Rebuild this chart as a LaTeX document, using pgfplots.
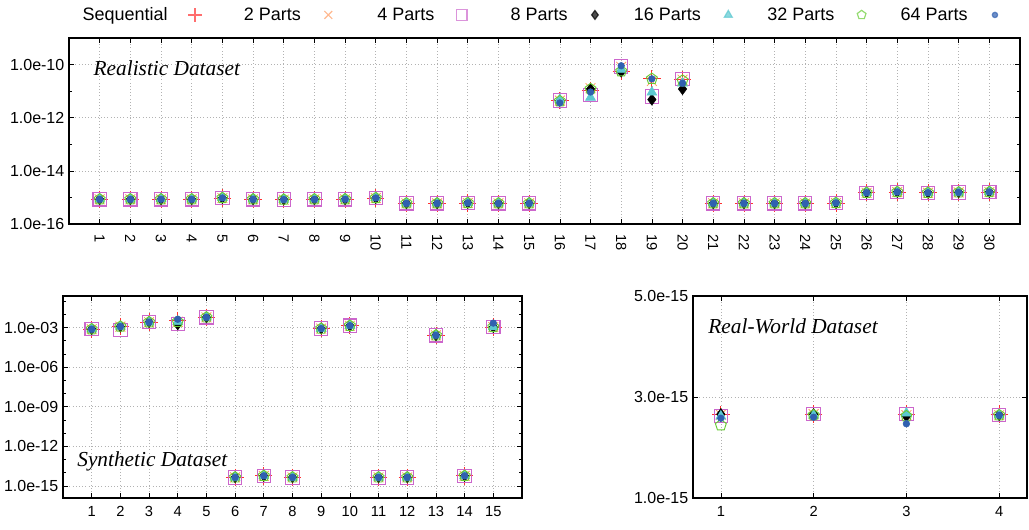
\documentclass[border=0pt]{standalone}
\usepackage{fontspec}
\setmainfont{Liberation Sans}
\newfontfamily\tnr{Liberation Serif}
\usepackage{pgfplots}
\usepackage{pgfplotstable}
\pgfplotsset{compat=1.18}
\usetikzlibrary{plotmarks}

\definecolor{cSeq}{HTML}{FF3030}
\definecolor{cTwo}{HTML}{FF9A60}
\definecolor{cFour}{HTML}{CC66CC}
\definecolor{cEight}{HTML}{000000}
\definecolor{cSixteen}{HTML}{5CC8D0}
\definecolor{cThirtytwo}{HTML}{66CC33}
\definecolor{cSixtyfour}{HTML}{3060B0}

\pgfplotstableread{
x s p2 p4 p8 p16 p32 p64
1 8.5e-16 8.5e-16 8.5e-16 8.5e-16 8.5e-16 8.5e-16 8.5e-16
2 8.5e-16 8.5e-16 8.5e-16 8.5e-16 8.5e-16 8.5e-16 8.5e-16
3 8.5e-16 8.5e-16 8.5e-16 8.5e-16 8.8e-16 8.5e-16 8.5e-16
4 8.5e-16 8.5e-16 8.5e-16 8.5e-16 8.5e-16 8.5e-16 8.5e-16
5 9.5e-16 9.5e-16 9.5e-16 9.5e-16 9.8e-16 9.5e-16 9.5e-16
6 8.5e-16 8.5e-16 8.5e-16 8.5e-16 8.5e-16 8.5e-16 8.5e-16
7 8.3e-16 8.3e-16 8.3e-16 8.3e-16 8.3e-16 8.3e-16 8.3e-16
8 8.5e-16 8.5e-16 8.5e-16 8.5e-16 8.5e-16 8.5e-16 8.5e-16
9 8.5e-16 8.5e-16 8.5e-16 8.5e-16 8.8e-16 8.5e-16 8.5e-16
10 9.5e-16 9.5e-16 9.5e-16 9.5e-16 9.8e-16 9.5e-16 9.5e-16
11 6.0e-16 6.0e-16 6.0e-16 6.0e-16 6.0e-16 6.0e-16 6.0e-16
12 6.0e-16 6.0e-16 6.0e-16 6.0e-16 6.0e-16 6.0e-16 6.0e-16
13 6.2e-16 6.2e-16 6.2e-16 6.2e-16 6.2e-16 6.2e-16 6.2e-16
14 6.0e-16 6.0e-16 6.0e-16 6.0e-16 6.0e-16 6.0e-16 6.0e-16
15 6.0e-16 6.0e-16 6.0e-16 6.0e-16 6.0e-16 6.0e-16 6.0e-16
16 4.4e-12 4.4e-12 4.4e-12 4.4e-12 4.8e-12 4.2e-12 3.6e-12
17 1.07e-11 1.3e-11 7.0e-12 1.2e-11 5.8e-12 1.2e-11 9.3e-12
18 5.5e-11 8.2e-11 8.5e-11 5.4e-11 6.5e-11 5.6e-11 9.0e-11
19 2.9e-11 2.4e-11 6.3e-12 4.8e-12 9.0e-12 2.9e-11 2.9e-11
20 2.7e-11 2.7e-11 2.8e-11 1.2e-11 2.0e-11 2.5e-11 2.0e-11
21 6.0e-16 6.0e-16 6.0e-16 6.0e-16 6.0e-16 6.0e-16 6.0e-16
22 6.0e-16 6.0e-16 6.0e-16 6.0e-16 6.0e-16 6.0e-16 6.0e-16
23 6.0e-16 6.0e-16 6.0e-16 6.0e-16 6.0e-16 6.0e-16 6.0e-16
24 6.0e-16 6.0e-16 6.0e-16 6.0e-16 6.0e-16 6.0e-16 6.0e-16
25 6.2e-16 6.2e-16 6.2e-16 6.2e-16 6.2e-16 6.2e-16 6.2e-16
26 1.5e-15 1.5e-15 1.5e-15 1.5e-15 1.5e-15 1.5e-15 1.5e-15
27 1.6e-15 1.6e-15 1.6e-15 1.6e-15 1.6e-15 1.6e-15 1.6e-15
28 1.5e-15 1.5e-15 1.5e-15 1.5e-15 1.5e-15 1.5e-15 1.5e-15
29 1.55e-15 1.55e-15 1.55e-15 1.55e-15 1.55e-15 1.55e-15 1.55e-15
30 1.6e-15 1.6e-15 1.6e-15 1.6e-15 1.6e-15 1.6e-15 1.6e-15
}\realistic

\pgfplotstableread{
x s p2 p4 p8 p16 p32 p64
1 7.6e-4 7.6e-4 7.6e-4 7.6e-4 7.6e-4 7.6e-4 7.6e-4
2 1.2e-3 1.2e-3 6.7e-4 1.2e-3 1.2e-3 1.2e-3 1.2e-3
3 2.6e-3 2.6e-3 2.6e-3 2.6e-3 2.6e-3 2.6e-3 2.6e-3
4 3.4e-3 2.8e-3 1.8e-3 1.8e-3 2.8e-3 2.8e-3 4.3e-3
5 6.0e-3 6.0e-3 6.0e-3 6.0e-3 6.0e-3 6.0e-3 6.0e-3
6 4.4e-15 4.4e-15 4.4e-15 4.4e-15 4.4e-15 4.4e-15 4.4e-15
7 5.7e-15 5.7e-15 5.7e-15 5.7e-15 5.7e-15 5.7e-15 5.7e-15
8 4.4e-15 4.4e-15 4.4e-15 4.4e-15 4.4e-15 4.4e-15 4.4e-15
9 8.4e-4 8.4e-4 8.4e-4 8.4e-4 8.4e-4 8.4e-4 8.4e-4
10 1.4e-3 1.4e-3 1.4e-3 1.4e-3 1.4e-3 1.4e-3 1.4e-3
11 4.4e-15 4.4e-15 4.4e-15 4.4e-15 4.4e-15 4.4e-15 4.4e-15
12 4.4e-15 4.4e-15 4.4e-15 4.4e-15 4.4e-15 4.4e-15 4.4e-15
13 2.6e-4 2.6e-4 2.6e-4 2.6e-4 2.6e-4 2.6e-4 2.6e-4
14 5.7e-15 5.7e-15 5.7e-15 5.7e-15 5.7e-15 5.7e-15 5.7e-15
15 1.1e-3 1.1e-3 1.1e-3 1.1e-3 1.1e-3 1.1e-3 2.2e-3
}\synthetic

\pgfplotstableread{
x s p2 p4 p8 p16 p32 p64
1 2.65e-15 2.65e-15 2.62e-15 2.66e-15 2.62e-15 2.44e-15 2.58e-15
2 2.66e-15 2.66e-15 2.66e-15 2.66e-15 2.64e-15 2.64e-15 2.60e-15
3 2.66e-15 2.64e-15 2.66e-15 2.62e-15 2.68e-15 2.62e-15 2.47e-15
4 2.66e-15 2.64e-15 2.64e-15 2.64e-15 2.64e-15 2.64e-15 2.64e-15
}\realworld

\pgfplotsset{
  every axis/.append style={
    scale only axis,
    yticklabel style={font=\fontsize{12}{14}\selectfont},
    xticklabel style={font=\fontsize{11}{13}\selectfont},
    tick align=inside,
    major tick length=4pt,
    minor tick length=2.5pt,
    grid=major,
    major grid style={gray!60, dotted, line width=0.5pt},
    axis line style={line width=0.8pt},
    every tick/.style={black, line width=0.5pt},
    tick pos=both,
  },
  sSeq/.style={only marks, mark=+, mark size=6.5pt, color=cSeq, mark options={line width=0.6pt}},
  sTwo/.style={only marks, mark=x, mark size=5.2pt, color=cTwo, mark options={line width=0.6pt}},
  sFour/.style={only marks, mark=square, mark size=5pt, color=cFour, mark options={line width=0.8pt}},
  sEight/.style={only marks, mark=diamond*, mark size=4.2pt, color=cEight, mark options={fill=black}},
  sSixteen/.style={only marks, mark=triangle*, mark size=4.3pt, color=cSixteen, mark options={fill=cSixteen}},
  sThirtytwo/.style={only marks, mark=pentagon, mark size=4.3pt, color=cThirtytwo, mark options={line width=0.7pt}},
  sSixtyfour/.style={only marks, mark=*, mark size=2.5pt, color=cSixtyfour, mark options={fill=cSixtyfour}},
}

\begin{document}
\begin{tikzpicture}
\path[use as bounding box] (0,0) rectangle (771.75pt,-397.5pt);

% Top: Realistic dataset
\begin{axis}[
  at={(51.75pt,-28.5pt)}, anchor=north west,
  width=713.25pt, height=139.5pt,
  xmin=0, xmax=31,
  ymode=log, ymin=1e-16, ymax=1e-9,
  xtick={1,...,30},
  xticklabels={1,2,3,4,5,6,7,8,9,10,11,12,13,14,15,16,17,18,19,20,21,22,23,24,25,26,27,28,29,30},
  xticklabel style={rotate=-90, anchor=west},
  xticklabel shift=4pt,
  ytick={1e-16,1e-14,1e-12,1e-10},
  yticklabels={1.0e-16,1.0e-14,1.0e-12,1.0e-10},
  minor ytick={1e-15,1e-13,1e-11},
  legend columns=7,
  legend plot pos=right,
  legend image code/.code={%
    \path[draw=none,fill=none] (-10pt,0pt) -- (10pt,0pt);
    \draw[#1] plot coordinates {(0pt,0pt)};},
  legend style={at={(rel axis cs:0.0123,1.124)}, anchor=west, draw=none, fill=none,
    inner sep=0pt,
    font=\fontsize{13.5}{15}\selectfont,
    nodes={inner xsep=1pt, inner ysep=1pt},
    /tikz/every even column/.style={column sep=4.5pt},
    /tikz/every odd column/.style={column sep=9.5pt}},
  legend image post style={opacity=0.7, /tikz/every mark/.append style={scale=0.8, line width=0.9pt}},
]
\addplot[sSeq] table[x=x,y=s] {\realistic};
\addlegendentry{\makebox[64pt][r]{Sequential}}
\addplot[sTwo] table[x=x,y=p2] {\realistic};
\addlegendentry{\makebox[64pt][r]{2 Parts}}
\addplot[sFour] table[x=x,y=p4] {\realistic};
\addlegendentry{\makebox[64pt][r]{4 Parts}}
\addplot[sEight] table[x=x,y=p8] {\realistic};
\addlegendentry{\makebox[64pt][r]{8 Parts}}
\addplot[sSixteen] table[x=x,y=p16] {\realistic};
\addlegendentry{\makebox[64pt][r]{16 Parts}}
\addplot[sThirtytwo] table[x=x,y=p32] {\realistic};
\addlegendentry{\makebox[64pt][r]{32 Parts}}
\addplot[sSixtyfour] table[x=x,y=p64] {\realistic};
\addlegendentry{\makebox[64pt][r]{64 Parts}}
\node[anchor=west, font=\fontsize{16}{18}\selectfont\tnr\itshape] at (rel axis cs:0.021,0.84) {Realistic Dataset};
\end{axis}

% Bottom left: Synthetic dataset
\begin{axis}[
  at={(47.25pt,-222pt)}, anchor=north west,
  width=344.25pt, height=151.5pt,
  xmin=0, xmax=16,
  ymode=log, ymin=1.2e-16, ymax=0.25,
  xtick={1,...,15},
  xticklabels={1,2,3,4,5,6,7,8,9,10,11,12,13,14,15},
  xticklabel shift=3pt,
  ytick={1e-15,1e-12,1e-9,1e-6,1e-3},
  yticklabels={1.0e-15,1.0e-12,1.0e-09,1.0e-06,1.0e-03},
  minor ytick={1e-16,1e-14,1e-13,1e-11,1e-10,1e-8,1e-7,1e-5,1e-4,1e-2,1e-1},
]
\addplot[sSeq] table[x=x,y=s] {\synthetic};
\addplot[sTwo] table[x=x,y=p2] {\synthetic};
\addplot[sFour] table[x=x,y=p4] {\synthetic};
\addplot[sEight] table[x=x,y=p8] {\synthetic};
\addplot[sSixteen] table[x=x,y=p16] {\synthetic};
\addplot[sThirtytwo] table[x=x,y=p32] {\synthetic};
\addplot[sSixtyfour] table[x=x,y=p64] {\synthetic};
\node[anchor=west, font=\fontsize{16}{18}\selectfont\tnr\itshape] at (rel axis cs:0.021,0.18) {Synthetic Dataset};
\end{axis}

% Bottom right: Real-World dataset
\begin{axis}[
  at={(519.75pt,-222pt)}, anchor=north west,
  width=250.5pt, height=151.5pt,
  xmin=0.7, xmax=4.3,
  ymin=1e-15, ymax=5e-15,
  scaled y ticks=false,
  xtick={1,2,3,4},
  xticklabels={1,2,3,4},
  xticklabel shift=3pt,
  ytick={1e-15,3e-15,5e-15},
  yticklabels={1.0e-15,3.0e-15,5.0e-15},
]
\addplot[sSeq] table[x=x,y=s] {\realworld};
\addplot[sTwo] table[x=x,y=p2] {\realworld};
\addplot[sFour] table[x=x,y=p4] {\realworld};
\addplot[sEight] table[x=x,y=p8] {\realworld};
\addplot[sSixteen] table[x=x,y=p16] {\realworld};
\addplot[sThirtytwo] table[x=x,y=p32] {\realworld};
\addplot[sSixtyfour] table[x=x,y=p64] {\realworld};
\node[anchor=west, font=\fontsize{16}{18}\selectfont\tnr\itshape] at (rel axis cs:0.032,0.851) {Real-World Dataset};
\end{axis}
\end{tikzpicture}
\end{document}
